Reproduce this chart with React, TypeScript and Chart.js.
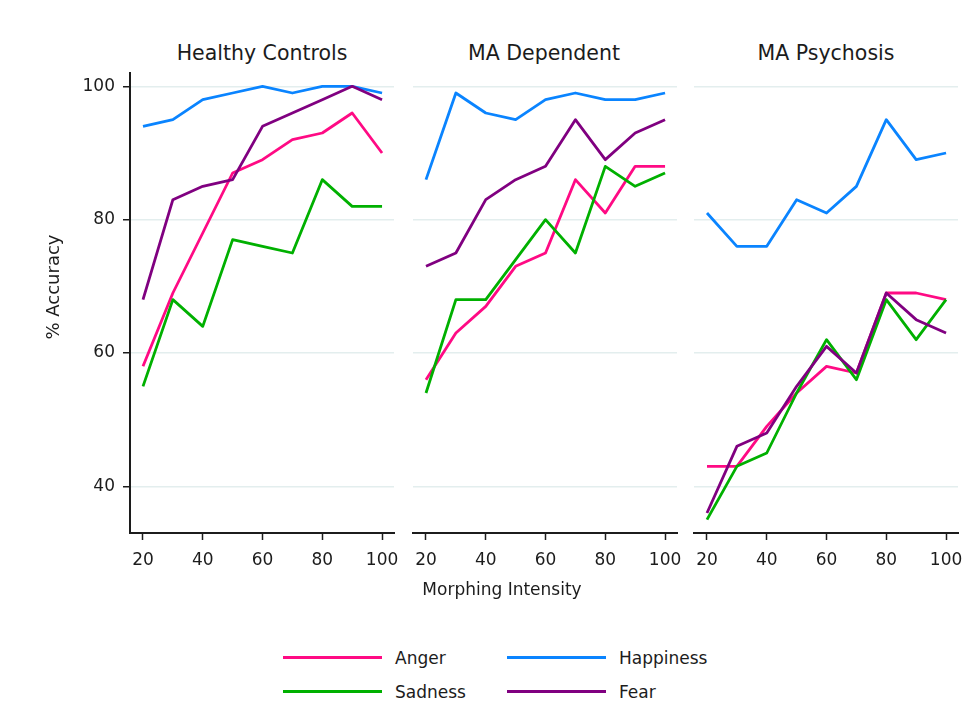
import React, { useEffect, useRef } from "react";
import { Chart, registerables } from "chart.js";

Chart.register(...registerables);

const intensities = [20, 30, 40, 50, 60, 70, 80, 90, 100];
const xTicks = [20, 40, 60, 80, 100];
const yTicks = [40, 60, 80, 100];
const panelTitles = ["Healthy Controls", "MA Dependent", "MA Psychosis"];
const emotions = ["Anger", "Happiness", "Sadness", "Fear"];

const hcAnger = [58, 69, 78, 87, 89, 92, 93, 96, 90];
const hcHappiness = [94, 95, 98, 99, 100, 99, 100, 100, 99];
const hcSadness = [55, 68, 64, 77, 76, 75, 86, 82, 82];
const hcFear = [68, 83, 85, 86, 94, 96, 98, 100, 98];

const mdAnger = [56, 63, 67, 73, 75, 86, 81, 88, 88];
const mdHappiness = [86, 99, 96, 95, 98, 99, 98, 98, 99];
const mdSadness = [54, 68, 68, 74, 80, 75, 88, 85, 87];
const mdFear = [73, 75, 83, 86, 88, 95, 89, 93, 95];

const mpAnger = [43, 43, 49, 54, 58, 57, 69, 69, 68];
const mpHappiness = [81, 76, 76, 83, 81, 85, 95, 89, 90];
const mpSadness = [35, 43, 45, 54, 62, 56, 68, 62, 68];
const mpFear = [36, 46, 48, 55, 61, 57, 69, 65, 63];

const colors = ["#ff0a84", "#0a84ff", "#00b000", "#800080"];
const FONT = "'DejaVu Sans', Verdana, sans-serif";
const TEXT = "#1c1c1c";

const panelSeries = [
  [hcAnger, hcHappiness, hcSadness, hcFear],
  [mdAnger, mdHappiness, mdSadness, mdFear],
  [mpAnger, mpHappiness, mpSadness, mpFear],
];

// layout of each panel's canvas
const panelLayout = [
  { left: 0, width: 400, yWidth: 130, padRight: 6, showY: true },
  { left: 400, width: 290, yWidth: 13, padRight: 13, showY: false },
  { left: 690, width: 290, yWidth: 4, padRight: 22, showY: false },
];
const CANVAS_H = 600;
const PLOT_TOP = 73;
const PLOT_BOTTOM = 533;

function Panel({ idx }: { idx: number }) {
  const ref = useRef<HTMLCanvasElement | null>(null);
  useEffect(() => {
    if (!ref.current) return;
    const lay = panelLayout[idx];
    const series = panelSeries[idx];
    const order = [3, 2, 1, 0];
    const chart = new Chart(ref.current, {
      type: "line",
      data: {
        datasets: emotions.map((name, i) => ({
          label: name,
          data: intensities.map((x, j) => ({ x, y: series[i][j] })),
          borderColor: colors[i],
          backgroundColor: colors[i],
          borderWidth: 2.8,
          pointRadius: 0,
          tension: 0,
          fill: false,
          order: order[i],
          borderJoinStyle: "round",
        })),
      },
      options: {
        responsive: false,
        animation: false,
        devicePixelRatio: 1,
        layout: { padding: { top: PLOT_TOP, right: lay.padRight, left: 0, bottom: 0 } },
        plugins: { legend: { display: false }, tooltip: { enabled: false }, title: { display: false } },
        scales: {
          x: {
            type: "linear",
            min: 15.65,
            max: 104,
            afterBuildTicks: (s: any) => {
              s.ticks = xTicks.map((v) => ({ value: v }));
            },
            afterFit: (s: any) => {
              s.height = CANVAS_H - PLOT_BOTTOM;
              s.paddingLeft = 0;
              s.paddingRight = 0;
            },
            ticks: {
              color: TEXT,
              font: { family: FONT, size: 17 },
              padding: 10,
              maxRotation: 0,
              autoSkip: false,
            },
            grid: {
              drawOnChartArea: false,
              drawTicks: true,
              tickLength: 7,
              tickColor: TEXT,
              tickWidth: 1.5,
            },
            border: { display: true, color: TEXT, width: 2 },
          },
          y: {
            type: "linear",
            min: 33,
            max: 102,
            afterBuildTicks: (s: any) => {
              s.ticks = yTicks.map((v) => ({ value: v }));
            },
            afterFit: (s: any) => {
              s.width = lay.yWidth;
              s.paddingTop = 0;
              s.paddingBottom = 0;
            },
            ticks: {
              display: lay.showY,
              color: TEXT,
              font: { family: FONT, size: 17 },
              padding: 8,
            },
            grid: {
              color: "#e3eeee",
              lineWidth: 1.5,
              drawTicks: lay.showY,
              tickLength: lay.showY ? 7 : 0,
              tickColor: TEXT,
              tickWidth: 1.5,
            },
            border: { display: lay.showY, color: TEXT, width: 2 },
          },
        },
      },
    } as any);
    return () => chart.destroy();
  }, [idx]);
  const lay = panelLayout[idx];
  return (
    <canvas
      ref={ref}
      width={lay.width}
      height={CANVAS_H}
      style={{ position: "absolute", left: lay.left, top: 0, width: lay.width, height: CANVAS_H }}
    />
  );
}

const titleCenters = [262, 544, 826];

function textStyle(size: number): React.CSSProperties {
  return {
    position: "absolute",
    fontFamily: FONT,
    fontSize: size,
    lineHeight: `${size}px`,
    color: TEXT,
    whiteSpace: "nowrap",
  };
}

function LegendItem({ i, left, top }: { i: number; left: number; top: number }) {
  return (
    <>
      <div
        style={{
          position: "absolute",
          left,
          top: top - 1.5,
          width: 99,
          height: 3,
          background: colors[i],
        }}
      />
      <div style={{ ...textStyle(17), left: left + 112, top: top - 7 }}>{emotions[i]}</div>
    </>
  );
}

export default function App() {
  return (
    <div
      style={{
        position: "absolute",
        left: 0,
        top: 0,
        width: 980,
        height: 719,
        background: "#ffffff",
        overflow: "hidden",
      }}
    >
      {panelTitles.map((t, i) => (
        <div
          key={t}
          style={{
            ...textStyle(20.5),
            left: titleCenters[i] - 150,
            width: 300,
            textAlign: "center",
            top: 42.5,
          }}
        >
          {t}
        </div>
      ))}
      {[0, 1, 2].map((i) => (
        <Panel key={i} idx={i} />
      ))}
      <div
        style={{
          ...textStyle(18),
          left: 53 - 100,
          top: 287 - 9,
          width: 200,
          textAlign: "center",
          transform: "rotate(-90deg)",
        }}
      >
        % Accuracy
      </div>
      <div style={{ ...textStyle(17), left: 402, width: 200, textAlign: "center", top: 580.5 }}>
        Morphing Intensity
      </div>
      <LegendItem i={0} left={283} top={657} />
      <LegendItem i={1} left={507} top={657} />
      <LegendItem i={2} left={283} top={691} />
      <LegendItem i={3} left={507} top={691} />
    </div>
  );
}
